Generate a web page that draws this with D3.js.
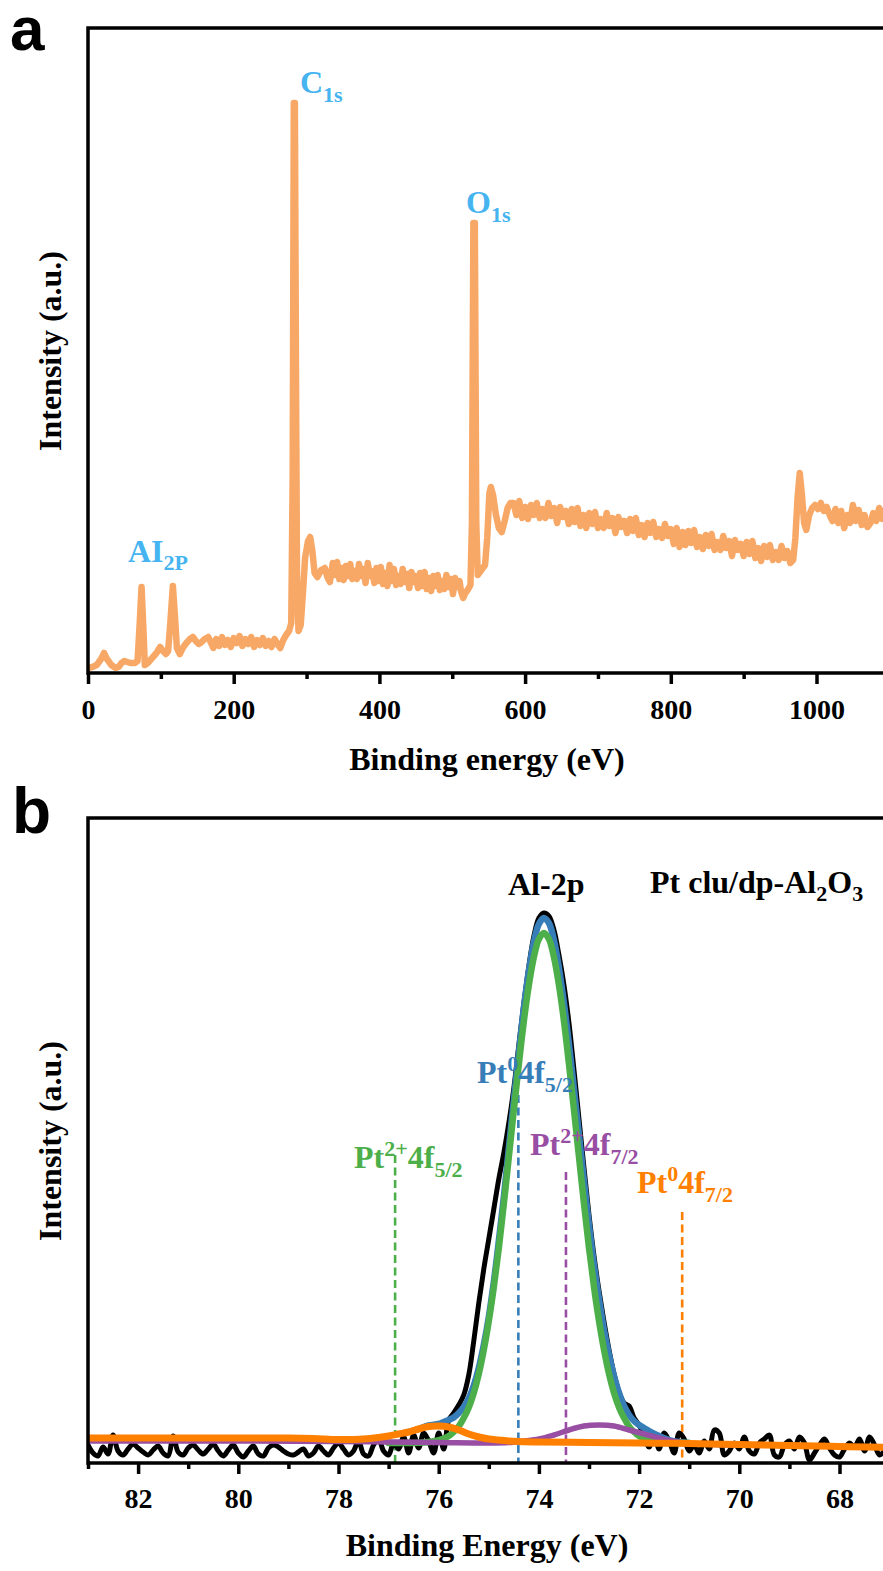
<!DOCTYPE html>
<html><head><meta charset="utf-8">
<script src="https://cdn.jsdelivr.net/npm/d3@7"></script>
<style>body{margin:0;background:#fff}</style>
</head><body><svg id="c" width="883" height="1571"></svg>
<script>
// ---------- Panel a: XPS survey (binding energy eV, intensity a.u.) ----------
const survey = [
[0,5],[6,6],[12,8],[18,14],[22,20],[26,14],[32,8],[38,5],[42,6],[46,10],[50,12],[54,11],[58,10],[64,10],[68,12],[71,50],[73.5,86],[76,45],[78,8],[82,10],[88,15],[94,20],[99,26],[103,22],[107,19],[110,22],[113,50],[116.5,87],[119.5,55],[122,25],[126,19],[130,25],[135,30],[140,34],[144,36],[148,32],[152,29],[156,31],[160,34],[165,36],[169,30],
[172,25],[176,34],[180,27],[184,36],[188,28],[192,33],[196,26],[200,35],[204,30],[208,37],[212,27],[216,34],[220,29],[224,36],[228,26],[232,33],[236,28],[240,35],[244,27],[248,32],[252,26],[256,34],[260,29],[264,25],[268,33],[272,38],[276,42],[279,50],[281,200],[282.5,570],[284,570],[285.5,300],[287,80],[289,42],[292,48],[295,80],[298,115],[302,132],[305,136],[308,122],[311,100],[315,96],[320,103],[325,105],[329,95],[332,91],
[336,110],[339,98],[342,111],[345,94],[348,105],[351,93],[354,107],[357,97],[360,109],[363,94],[366,102],[369,94],[372,109],[375,97],[378,104],[381,90],[384,110],[387,97],[390,102],[393,90],[396,105],[399,92],[402,106],[405,89],[408,100],[411,87],[414,108],[417,92],[420,104],[423,88],[426,97],[429,89],[432,104],[435,91],[438,99],[441,85],[444,101],[447,91],[450,97],[453,85],[456,100],[459,87],[462,101],[465,84],[468,95],[471,82],[474,97],[477,87],[480,98],[483,83],[486,92],[489,84],[492,98],[495,86],[498,94],[501,79],[504,95],[507,86],[510,92],
[512,82],[515,75],[518,80],[522,84],[525,88],[527,150],[529,450],[531,450],[533,150],[535,98],[540,103],[545,108],[548,135],[551,180],[553,186],[556,178],[560,158],[564,145],[568,141],[572,152],[576,165],[580,170],
[584,170],[588,158],[592,172],[596,155],[600,166],[604,154],[608,168],[612,158],[616,170],[620,155],[624,164],[628,155],[632,170],[636,157],[640,165],[644,150],[648,166],[652,156],[656,162],[660,149],[664,164],[668,151],[672,165],[676,147],[680,158],[684,145],[688,160],[692,149],[696,161],[700,145],[704,154],[708,145],[712,160],[716,147],[720,155],[724,140],[728,156],[732,146],[736,152],[740,140],[744,154],[748,142],[752,155],[756,138],[760,148],[764,136],[768,150],[772,140],[776,151],[780,136],[784,144],[788,135],[792,149],[796,137],[800,144],[804,129],[808,145],[812,126],[816,141],[820,128],[824,142],[828,130],[832,143],[836,126],[840,136],[844,124],[848,138],[852,127],[856,139],[860,123],[864,131],[868,123],[872,137],[876,125],[880,132],[884,117],[888,133],[892,123],[896,129],[900,117],[904,131],[908,119],[912,132],[916,115],[920,125],[924,112],[928,127],[932,116],[936,128],[940,113],[944,121],[948,113],[952,127],[956,115],[960,122],[964,110],
[968,113],[971,135],[974,175],[977,200],[980,178],[983,150],[986,143],[990,158],[994,165],[998,168],[1002,164],[1006,170],[1010,162],[1014,166],[1018,158],[1022,152],
[1026,164],[1030,150],[1034,162],[1038,145],[1042,158],[1046,150],[1050,168],[1054,152],[1058,163],[1062,148],[1066,158],[1070,146],[1074,150],[1078,160],[1082,152],[1086,165],[1090,154],[1094,163],[1098,151],[1102,160],[1106,150],[1110,158]
];
const majorTicksA = [0,200,400,600,800,1000];
const minorTicksA = [100,300,500,700,900,1100];
const peakLabelsA = [
  {main:"C", sub:"1s", e:283},
  {main:"O", sub:"1s", e:530},
  {main:"AI", sub:"2P", e:95}
];

// ---------- Panel b: Al-2p / Pt 4f region ----------
const rawB = [[83,18],[82.9,10],[82.8,7],[82.7,16],[82.6,9],[82.5,28],[82.4,12],[82.3,8],[82.2,14],[82.1,19],[82,15],[81.9,11],[81.8,8],[81.7,13],[81.6,17],[81.5,10],[81.4,7],[81.3,27],[81.2,11],[81.1,8],[81,15],[80.9,18],[80.8,13],[80.7,9],[80.6,14],[80.5,19],[80.4,12],[80.3,7],[80.2,13],[80.1,18],[80,10],[79.9,6],[79.8,12],[79.7,17],[79.6,9],[79.5,7],[79.4,15],[79.3,18],[79.2,16],[79.1,12],[79,9],[78.9,8],[78.8,11],[78.7,14],[78.6,7],[78.5,10],[78.4,17],[78.3,12],[78.2,8],[78.1,15],[78,20],[77.9,14],[77.8,8],[77.7,12],[77.6,22],[77.5,9],[77.4,7],[77.3,18],[77.2,24],[77.1,12],[77,8],[76.9,20],[76.8,14],[76.7,26],[76.6,10],[76.5,28],[76.4,15],[76.3,30],[76.2,22],[76.1,10],[76,30],[75.9,14],[75.8,43],[75.7,50],[75.6,58],[75.5,68],[75.4,88],[75.3,122],[75.2,160],[75.1,194],[75,224],[74.9,254],[74.8,284],[74.7,310],[74.6,340],[74.5,375],[74.4,418],[74.3,460],[74.2,497],[74.1,527],[74,545],[73.9,550],[73.8,547],[73.7,533],[73.6,508],[73.5,478],[73.4,440],[73.3,393],[73.2,344],[73.1,295],[73,248],[72.9,207],[72.8,172],[72.7,141],[72.6,113],[72.5,89],[72.4,71],[72.3,60],[72.2,57],[72.1,45],[72,38],[71.9,26],[71.8,16],[71.7,28],[71.6,14],[71.5,30],[71.4,22],[71.3,10],[71.2,30],[71.1,24],[71,12],[70.9,18],[70.8,10],[70.7,22],[70.6,14],[70.5,33],[70.4,30],[70.3,8],[70.2,12],[70.1,20],[70,14],[69.9,26],[69.8,12],[69.7,9],[69.6,20],[69.5,24],[69.4,28],[69.3,8],[69.2,6],[69.1,18],[69,22],[68.9,14],[68.8,26],[68.7,20],[68.6,3],[68.5,10],[68.4,18],[68.3,24],[68.2,15],[68.1,8],[68,6],[67.9,14],[67.8,20],[67.7,16],[67.6,24],[67.5,12],[67.4,26],[67.3,18],[67.2,8],[67.1,12],[67,16],[66.9,10]];
const envelopeB = [[76.6,31],[76.4,34],[76.2,37.5],[76,39],[75.9,41],[75.8,43],[75.7,45.5],[75.6,50],[75.5,56],[75.4,64.5],[75.3,77.5],[75.2,95],[75.1,118],[75,146],[74.9,181],[74.8,222],[74.7,266],[74.6,315],[74.5,363],[74.4,410],[74.3,455],[74.2,492],[74.1,521],[74,539],[73.9,545],[73.8,540],[73.7,523],[73.6,495],[73.5,460],[73.4,419],[73.3,374],[73.2,328],[73.1,282],[73,238],[72.9,198],[72.8,164],[72.7,133],[72.6,108],[72.5,87],[72.4,70],[72.3,57],[72.2,48],[72.1,42],[72,38],[71.9,35],[71.8,32],[71.6,27],[71.4,23],[71.2,21],[71,20]];
const alPeakB = [[77,20],[76.5,20],[76.3,20.5],[76.1,21.7],[75.9,24.5],[75.8,27],[75.7,31],[75.6,36.7],[75.5,45],[75.4,55.5],[75.3,70],[75.2,89],[75.1,113],[75,142],[74.9,176],[74.8,215],[74.7,259],[74.6,306],[74.5,353],[74.4,399],[74.3,442],[74.2,478],[74.1,506],[74,524],[73.9,530],[73.8,524],[73.7,506],[73.6,478],[73.5,442],[73.4,399],[73.3,353],[73.2,306],[73.1,259],[73,215],[72.9,176],[72.8,142],[72.7,113],[72.6,89],[72.5,70],[72.4,55.5],[72.3,45],[72.2,36.7],[72.1,31],[72,27],[71.9,24.5],[71.7,21.7],[71.5,20.5],[71.3,20],[71,20]];
const pt2p72B = [[83,22],[80,22],[78,21.5],[77,21],[76,20.5],[75,20],[74.6,20.5],[74.3,22],[74,24],[73.7,28],[73.4,33],[73.1,37],[72.8,38],[72.5,37],[72.2,33],[71.9,29],[71.6,25],[71.3,21.5],[71,19.5],[70.5,18.5],[70,18],[69,17.5],[68,16.5],[67,15.5],[66,14.5]];
const pt0f72B = [[83,25],[82,25],[81,25],[80,25],[79,25],[78.5,24.5],[78,23.5],[77.5,24],[77.2,25.5],[77,27],[76.8,29],[76.6,31],[76.4,34],[76.2,36.5],[76,37],[75.8,36],[75.6,33],[75.4,29],[75.2,26],[75,24],[74.8,23],[74.6,22],[74.4,21.5],[74,21],[73,20.5],[72,20],[71,19.5],[70,18.5],[69,17.5],[68,16.5],[67,15.5],[66,14.5]];
const majorTicksB = [82,80,78,76,74,72,70,68];
const minorTicksB = [83,81,79,77,75,73,71,69,67];
const refLinesB = [
  {e:76.87, top:1155, color:"#4DAF4A", parts:[["Pt"],["2+","sup"],["4f"],["5/2","sub"]], lx:354, ly:1168},
  {e:74.41, top:1095, color:"#377EB8", parts:[["Pt"],["0","sup"],["4f"],["5/2","sub"]], lx:477, ly:1083},
  {e:73.46, top:1172, color:"#984EA3", parts:[["Pt"],["2+","sup"],["4f"],["7/2","sub"]], lx:530, ly:1155},
  {e:71.14, top:1212, color:"#FF7F00", parts:[["Pt"],["0","sup"],["4f"],["7/2","sub"]], lx:637, ly:1193}
];

// ---------- drawing ----------
const svg = d3.select("#c");
const SERIF = "'Liberation Serif','Times New Roman',serif";
const SANS = "'Liberation Sans',Arial,sans-serif";

function rich(g, x, y, parts, color, size, subSize, supShift, subShift) {
  const t = g.append("text").attr("x", x).attr("y", y)
    .attr("font-family", SERIF).attr("font-weight", "bold")
    .attr("font-size", size).attr("fill", color);
  let cur = 0;
  parts.forEach(p => {
    const kind = p[1];
    const target = kind === "sup" ? -supShift : kind === "sub" ? subShift : 0;
    t.append("tspan").attr("dy", target - cur)
      .attr("font-size", kind ? subSize : size).text(p[0]);
    cur = target;
  });
  return t;
}

function axisFrame(top, bottom, xScale, major, minor, fmt, labelBase) {
  const g = svg.append("g");
  const ax = g.append("g").attr("transform", `translate(0,${bottom})`)
    .call(d3.axisBottom(xScale).tickValues(major).tickSize(11).tickSizeOuter(0)
      .tickPadding(labelBase - bottom - 11 - 19.9).tickFormat(fmt));
  ax.select(".domain").remove();
  ax.selectAll(".tick line").attr("stroke", "#000").attr("stroke-width", 3.5);
  ax.selectAll(".tick text").attr("font-family", SERIF).attr("font-weight", "bold")
    .attr("font-size", 28).attr("fill", "#000");
  const axm = g.append("g").attr("transform", `translate(0,${bottom})`)
    .call(d3.axisBottom(xScale).tickValues(minor).tickSize(6).tickSizeOuter(0).tickFormat(""));
  axm.select(".domain").remove();
  axm.selectAll(".tick line").attr("stroke", "#000").attr("stroke-width", 3.5);
  g.append("rect").attr("x", 88).attr("y", top).attr("width", 887 - 88).attr("height", bottom - top)
    .attr("fill", "none").attr("stroke", "#000").attr("stroke-width", 3.5);
  return g;
}

// Panel a
const xA = d3.scaleLinear().domain([0, 1200]).range([88, 88 + 1200 * 0.7285]);
const yA = d3.scaleLinear().domain([0, 645]).range([673, 28]);
svg.append("defs").append("clipPath").attr("id", "clipA")
  .append("rect").attr("x", 88).attr("y", 28).attr("width", 800).attr("height", 645);
svg.append("path").datum(survey)
  .attr("clip-path", "url(#clipA)")
  .attr("d", d3.line().x(d => xA(d[0])).y(d => yA(d[1])))
  .attr("fill", "none").attr("stroke", "#F8A866").attr("stroke-width", 6.5)
  .attr("stroke-linejoin", "round").attr("stroke-linecap", "round");
axisFrame(28, 673, xA, majorTicksA, minorTicksA, d3.format("d"), 719);

const labA = svg.append("g");
rich(labA, 300, 93, [[peakLabelsA[0].main], [peakLabelsA[0].sub, "sub"]], "#45B4F0", 32, 22, 0, 9);
rich(labA, 466, 213, [[peakLabelsA[1].main], [peakLabelsA[1].sub, "sub"]], "#45B4F0", 32, 22, 0, 9);
rich(labA, 128, 562, [[peakLabelsA[2].main], [peakLabelsA[2].sub, "sub"]], "#45B4F0", 32, 22, 0, 8);

svg.append("text").attr("x", 487).attr("y", 770).attr("text-anchor", "middle")
  .attr("font-family", SERIF).attr("font-weight", "bold").attr("font-size", 32).text("Binding energy (eV)");
svg.append("text").attr("transform", "translate(61,351) rotate(-90)").attr("text-anchor", "middle")
  .attr("font-family", SERIF).attr("font-weight", "bold").attr("font-size", 32).text("Intensity (a.u.)");
svg.append("text").attr("x", 10).attr("y", 50).attr("font-family", SANS).attr("font-weight", "bold")
  .attr("font-size", 62).text("a");

// Panel b
const xB = d3.scaleLinear().domain([83, 66]).range([88, 88 + 17 * 50.1]);
const yB = d3.scaleLinear().domain([0, 645]).range([1463, 818]);
svg.select("defs").append("clipPath").attr("id", "clipB")
  .append("rect").attr("x", 88).attr("y", 818).attr("width", 800).attr("height", 645);

const gB = svg.append("g").attr("clip-path", "url(#clipB)");
refLinesB.forEach(r => {
  gB.append("line").attr("x1", xB(r.e)).attr("x2", xB(r.e)).attr("y1", r.top).attr("y2", yB(0))
    .attr("stroke", r.color).attr("stroke-width", 2.6).attr("stroke-dasharray", "8,4.5");
});
const lineB = d3.line().x(d => xB(d[0])).y(d => yB(d[1])).curve(d3.curveCatmullRom.alpha(0.5));
const seriesB = [
  [rawB, "#000000", 5],
  [envelopeB, "#377EB8", 6.5],
  [alPeakB, "#4DAF4A", 6.5],
  [pt2p72B, "#984EA3", 5.5],
  [pt0f72B, "#FF7F00", 7]
];
seriesB.forEach(s => {
  gB.append("path").datum(s[0]).attr("d", lineB).attr("fill", "none")
    .attr("stroke", s[1]).attr("stroke-width", s[2])
    .attr("stroke-linejoin", "round").attr("stroke-linecap", "round");
});
axisFrame(818, 1463, xB, majorTicksB, minorTicksB, d3.format("d"), 1508);

refLinesB.forEach(r => rich(svg, r.lx, r.ly, r.parts, r.color, 32, 22, 12, 9));
rich(svg, 508, 895, [["Al-2p"]], "#000", 32, 22, 0, 8);
rich(svg, 650, 893, [["Pt clu/dp-Al"], ["2", "sub"], ["O"], ["3", "sub"]], "#000", 32, 22, 0, 8);

svg.append("text").attr("x", 487).attr("y", 1556).attr("text-anchor", "middle")
  .attr("font-family", SERIF).attr("font-weight", "bold").attr("font-size", 32).text("Binding Energy (eV)");
svg.append("text").attr("transform", "translate(61,1141) rotate(-90)").attr("text-anchor", "middle")
  .attr("font-family", SERIF).attr("font-weight", "bold").attr("font-size", 32).text("Intensity (a.u.)");
svg.append("text").attr("x", 12).attr("y", 833).attr("font-family", SANS).attr("font-weight", "bold")
  .attr("font-size", 64).text("b");
</script></body></html>
